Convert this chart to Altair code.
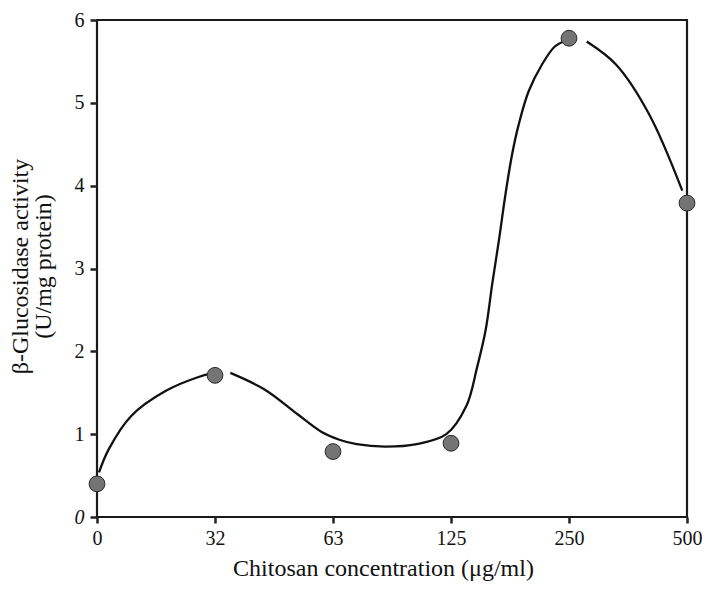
import altair as alt
import pandas as pd

# Measured points
conc_labels = ["0", "32", "63", "125", "250", "500"]
point_pos = [0, 1, 2, 3, 4, 5]
activity = [0.40, 1.71, 0.79, 0.89, 5.78, 3.79]

# Hand-drawn fitted curve (position index, value, segment)
curve_pos = [0.017, 0.10, 0.29, 0.58, 0.86, 0.97,
             1.13, 1.42, 1.70, 1.90, 2.06, 2.20, 2.44, 2.71, 2.96, 3.13, 3.22,
             3.294, 3.35, 3.406, 3.462, 3.518, 3.574, 3.658, 3.77, 3.88, 3.97,
             4.15, 4.40, 4.68, 4.96]
curve_val = [0.54, 0.82, 1.22, 1.52, 1.69, 1.73,
             1.74, 1.54, 1.24, 1.03, 0.93, 0.88, 0.85, 0.88, 1.00, 1.34, 1.80,
             2.26, 2.82, 3.34, 3.90, 4.38, 4.74, 5.14, 5.46, 5.68, 5.75,
             5.74, 5.46, 4.86, 3.94]
curve_seg = ["a"] * 6 + ["b"] * 21 + ["c"] * 4

pts = pd.DataFrame({"pos": point_pos, "val": activity, "conc": conc_labels})
crv = pd.DataFrame({"pos": curve_pos, "val": curve_val, "seg": curve_seg})

FONT = "Liberation Serif"
label_expr = "[" + ",".join("'%s'" % s for s in conc_labels) + "][round(datum.value)]"

x_enc = alt.X(
    "pos:Q",
    scale=alt.Scale(domain=[0, 5], nice=False, zero=False),
    axis=alt.Axis(
        values=point_pos,
        labelExpr=label_expr,
        labelFlush=False,
        title="Chitosan concentration (\u03bcg/ml)",
        grid=False,
        domain=False,
        tickSize=6,
        tickWidth=2.5,
        tickColor="#222",
        labelPadding=5,
        labelFont=FONT,
        labelFontSize=20,
        labelColor="#111",
        titleFont=FONT,
        titleFontSize=24,
        titleFontWeight="normal",
        titleColor="#111",
        titleX=286,
        titleY=58,
        titleBaseline="alphabetic",
    ),
)

y_enc = alt.Y(
    "val:Q",
    scale=alt.Scale(domain=[0, 6], nice=False),
    axis=alt.Axis(
        values=[0, 1, 2, 3, 4, 5, 6],
        format="d",
        labelFlush=False,
        title=["\u03b2-Glucosidase activity", "(U/mg protein)"],
        grid=False,
        domain=False,
        tickSize=7,
        tickWidth=2.5,
        tickColor="#222",
        labelPadding=6,
        labelFont=FONT,
        labelFontSize=20,
        labelColor="#111",
        labelFontStyle=alt.condition("datum.value == 0", alt.value("italic"), alt.value("normal")),
        titleFont=FONT,
        titleFontSize=24,
        titleFontWeight="normal",
        titleColor="#111",
        titleLineHeight=23,
        titleX=-65,
        titleY=246,
        titleBaseline="bottom",
    ),
)

curve = alt.Chart(crv).mark_line(
    interpolate="catmull-rom", color="#111", strokeWidth=2.3
).encode(x=x_enc, y=y_enc, detail="seg:N")

dots = alt.Chart(pts).mark_point(
    filled=True, shape="circle", size=250, fill="#747474", stroke="#2a2a2a",
    strokeWidth=1, opacity=1
).encode(x="pos:Q", y="val:Q")

chart = (
    alt.layer(curve, dots)
    .properties(
        width=590,
        height=497,
        autosize=alt.AutoSizeParams(type="none"),
        padding={"left": 89, "top": 12, "right": 15, "bottom": 74},
        background="white",
    )
    .configure_view(stroke="#1a1a1a", strokeWidth=2.2)
)

chart.save("out.html", embed_options={"renderer": "svg", "actions": False})
